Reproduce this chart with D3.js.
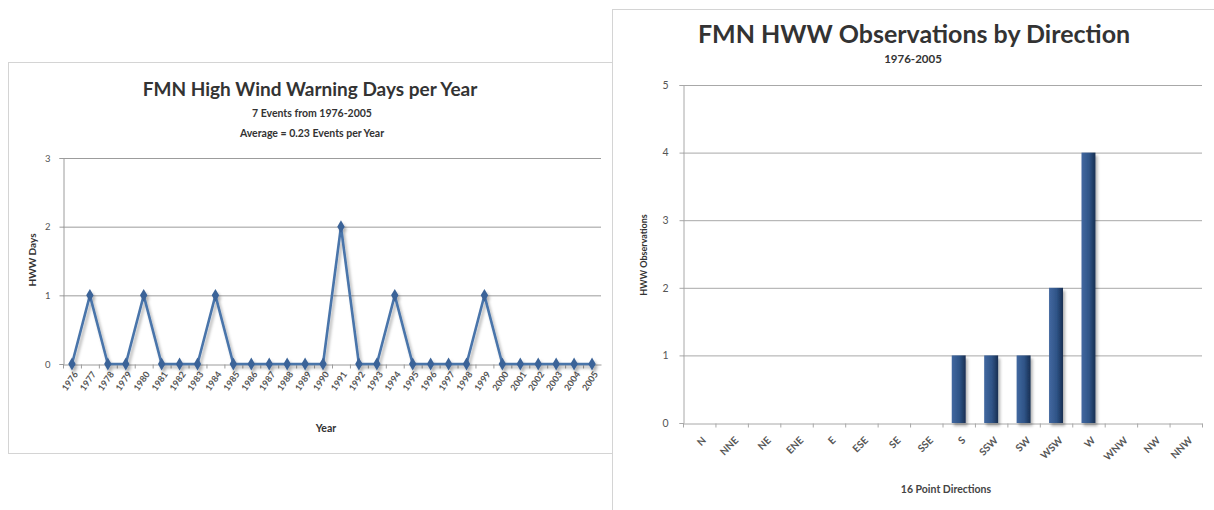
<!DOCTYPE html>
<html>
<head>
<meta charset="utf-8">
<script src="https://cdn.jsdelivr.net/npm/d3@7.9.0/dist/d3.min.js"></script>
<style>
  body { margin: 0; background: #fff; }
  svg { display: block; font-family: Lato, "Open Sans", sans-serif; }
  .tick text { fill: #555; }
</style>
</head>
<body>
<svg id="chart" width="1214" height="510"></svg>
<script>
// left chart data
const years = ["1976","1977","1978","1979","1980","1981","1982","1983","1984","1985",
               "1986","1987","1988","1989","1990","1991","1992","1993","1994","1995",
               "1996","1997","1998","1999","2000","2001","2002","2003","2004","2005"];
const hwwDays = [0,1,0,0,1,0,0,0,1,0, 0,0,0,0,0,2,0,0,1,0, 0,0,0,1,0,0,0,0,0,0];
const dayTicks = [0,1,2,3];

// right chart data
const directions = ["N","NNE","NE","ENE","E","ESE","SE","SSE","S","SSW","SW","WSW","W","WNW","NW","NNW"];
const obsCounts = [0,0,0,0,0,0,0,0,1,1,1,2,4,0,0,0];
const obsTicks = [0,1,2,3,4,5];

const FONT = "Lato, 'Open Sans', sans-serif";

const svg = d3.select("#chart");
svg.append("rect").attr("width", 1214).attr("height", 510).attr("fill", "#fff");

const defs = svg.append("defs");
const shadow = defs.append("filter").attr("id", "shadow")
    .attr("x", "-20%").attr("y", "-20%").attr("width", "140%").attr("height", "140%");
shadow.append("feDropShadow").attr("dx", 2).attr("dy", 3).attr("stdDeviation", 1.6)
    .attr("flood-color", "#000").attr("flood-opacity", 0.3);

const barGrad = defs.append("linearGradient").attr("id", "barGrad");
barGrad.append("stop").attr("offset", "0%").attr("stop-color", "#4268a0");
barGrad.append("stop").attr("offset", "55%").attr("stop-color", "#2f5487");
barGrad.append("stop").attr("offset", "100%").attr("stop-color", "#182f52");

// ---------- left panel ----------
const left = svg.append("g");
left.append("rect")
    .attr("x", 8.5).attr("y", 62.5).attr("width", 606).attr("height", 391)
    .attr("fill", "#fff").attr("stroke", "#d4d4d4");

left.append("text").attr("x", 310).attr("y", 96).attr("text-anchor", "middle")
    .attr("font-size", 19).attr("font-weight", "bold").attr("fill", "#333")
    .text("FMN High Wind Warning Days per Year");
left.append("text").attr("x", 312).attr("y", 117).attr("text-anchor", "middle")
    .attr("font-size", 10.5).attr("font-weight", "bold").attr("fill", "#333")
    .text("7 Events from 1976-2005");
left.append("text").attr("x", 312).attr("y", 137).attr("text-anchor", "middle")
    .attr("font-size", 10.5).attr("font-weight", "bold").attr("fill", "#333")
    .text("Average = 0.23 Events per Year");

const xL = d3.scaleBand().domain(years).range([63, 601]);
const yL = d3.scaleLinear().domain([0, 3]).range([364, 158]);

left.append("g")
    .selectAll("line").data(dayTicks.slice(1)).join("line")
    .attr("x1", 63).attr("x2", 601)
    .attr("y1", d => yL(d) + 0.5).attr("y2", d => yL(d) + 0.5)
    .attr("stroke", "#9c9c9c");

left.append("g")
    .attr("transform", "translate(63.5,0)")
    .call(d3.axisLeft(yL).tickValues(dayTicks).tickFormat(d3.format("d")).tickSize(4).tickPadding(9))
    .attr("font-family", FONT)
    .call(g => g.select(".domain").attr("stroke", "#9c9c9c"))
    .call(g => g.selectAll(".tick line").attr("stroke", "#9c9c9c"))
    .call(g => g.selectAll(".tick text").attr("font-size", 9.5));

const xAxisL = left.append("g")
    .attr("transform", `translate(0,${yL(0) + 0.5})`)
    .call(d3.axisBottom(xL).tickSize(0))
    .attr("font-family", FONT);
xAxisL.select(".domain").attr("stroke", "#9c9c9c");
xAxisL.selectAll(".tick text")
    .attr("font-size", 9).attr("font-weight", "bold")
    .attr("text-anchor", "end")
    .attr("y", 0).attr("dy", "0.35em")
    .attr("transform", "translate(4,8) rotate(-55)");
xAxisL.append("g").selectAll("line").data(years).join("line")
    .attr("x1", d => xL(d) + 0.5).attr("x2", d => xL(d) + 0.5)
    .attr("y1", 0).attr("y2", 4).attr("stroke", "#9c9c9c");

left.append("text")
    .attr("transform", "translate(36,260) rotate(-90)")
    .attr("text-anchor", "middle").attr("font-size", 10).attr("font-weight", "bold")
    .attr("fill", "#333").text("HWW Days");
left.append("text").attr("x", 326).attr("y", 432).attr("text-anchor", "middle")
    .attr("font-size", 10.5).attr("font-weight", "bold").attr("fill", "#333")
    .text("Year");

const lineL = d3.line()
    .x((d, i) => xL(years[i]) + xL.bandwidth() / 2)
    .y(d => yL(d));

const series = left.append("g").attr("filter", "url(#shadow)");
series.append("path").datum(hwwDays)
    .attr("fill", "none").attr("stroke", "#4a74aa").attr("stroke-width", 2.6)
    .attr("stroke-linejoin", "miter")
    .attr("d", lineL);
series.selectAll("path.marker").data(hwwDays).join("path")
    .attr("class", "marker")
    .attr("transform", (d, i) => `translate(${xL(years[i]) + xL.bandwidth() / 2},${yL(d)})`)
    .attr("d", d3.symbol(d3.symbolDiamond, 48))
    .attr("fill", "#3b6398");

// ---------- right panel ----------
const right = svg.append("g");
right.append("rect")
    .attr("x", 612.5).attr("y", 9.5).attr("width", 610).attr("height", 520)
    .attr("fill", "#fff").attr("stroke", "#d4d4d4");

right.append("text").attr("x", 914).attr("y", 43).attr("text-anchor", "middle")
    .attr("font-size", 25).attr("font-weight", "bold").attr("fill", "#333")
    .text("FMN HWW Observations by Direction");
right.append("text").attr("x", 913).attr("y", 63).attr("text-anchor", "middle")
    .attr("font-size", 11.5).attr("font-weight", "bold").attr("fill", "#333")
    .text("1976-2005");

const xR = d3.scaleBand().domain(directions).range([683, 1202]);
const yR = d3.scaleLinear().domain([0, 5]).range([423, 85]);

right.append("g")
    .selectAll("line").data(obsTicks.slice(1)).join("line")
    .attr("x1", 683).attr("x2", 1202)
    .attr("y1", d => yR(d) + 0.5).attr("y2", d => yR(d) + 0.5)
    .attr("stroke", "#a8a8a8");

right.append("g")
    .attr("transform", "translate(683.5,0)")
    .call(d3.axisLeft(yR).tickValues(obsTicks).tickFormat(d3.format("d")).tickSize(4).tickPadding(11))
    .attr("font-family", FONT)
    .call(g => g.select(".domain").attr("stroke", "#a8a8a8"))
    .call(g => g.selectAll(".tick line").attr("stroke", "#a8a8a8"))
    .call(g => g.selectAll(".tick text").attr("font-size", 10.5));

const xAxisR = right.append("g")
    .attr("transform", `translate(0,${yR(0) + 0.5})`)
    .call(d3.axisBottom(xR).tickSize(0))
    .attr("font-family", FONT);
xAxisR.select(".domain").attr("stroke", "#a8a8a8");
xAxisR.selectAll(".tick text")
    .attr("font-size", 10).attr("font-weight", "bold")
    .attr("text-anchor", "end")
    .attr("y", 0).attr("dy", "0.35em")
    .attr("transform", "translate(5,15) rotate(-45)");
xAxisR.append("g").selectAll("line").data(directions.concat(["end"])).join("line")
    .attr("x1", d => (d === "end" ? 1202 : xR(d)) + 0.5)
    .attr("x2", d => (d === "end" ? 1202 : xR(d)) + 0.5)
    .attr("y1", 0).attr("y2", 4).attr("stroke", "#a8a8a8");

right.append("text")
    .attr("transform", "translate(647,255) rotate(-90)")
    .attr("text-anchor", "middle").attr("font-size", 9).attr("font-weight", "bold")
    .attr("fill", "#333").text("HWW Observations");
right.append("text").attr("x", 946).attr("y", 493).attr("text-anchor", "middle")
    .attr("font-size", 10.5).attr("font-weight", "bold").attr("fill", "#444")
    .text("16 Point Directions");

const barW = xR.bandwidth() * 0.43;
right.append("g").attr("filter", "url(#shadow)")
    .selectAll("rect").data(obsCounts.map((v, i) => ({ dir: directions[i], v })).filter(d => d.v > 0))
    .join("rect")
    .attr("x", d => xR(d.dir) + (xR.bandwidth() - barW) / 2)
    .attr("y", d => yR(d.v))
    .attr("width", barW)
    .attr("height", d => yR(0) - yR(d.v))
    .attr("fill", "url(#barGrad)");
</script>
</body>
</html>
